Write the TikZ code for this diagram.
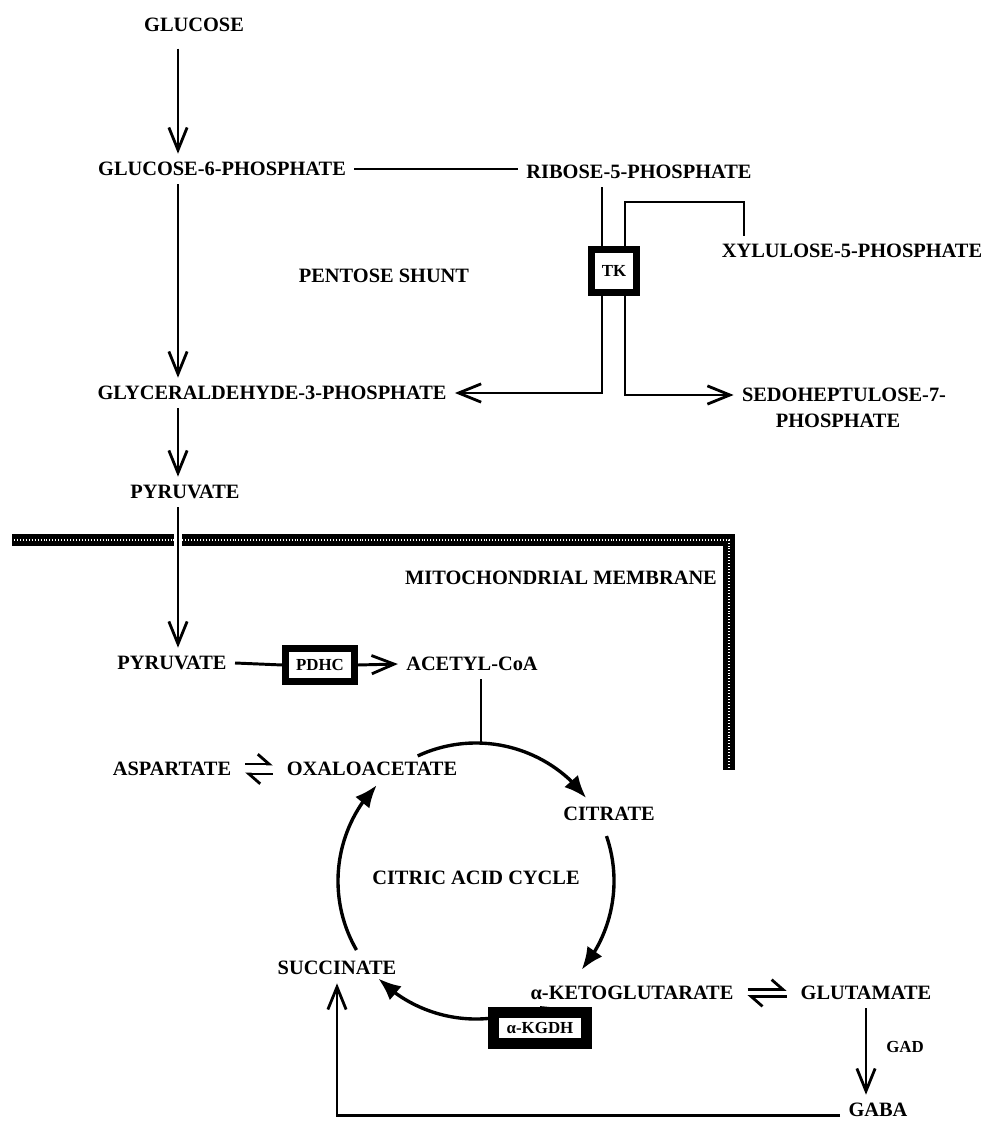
\documentclass[tikz,border=0pt]{standalone}
\usepackage{fontspec}
\setmainfont{Liberation Serif}
\usetikzlibrary{arrows.meta,bending,positioning}

\tikzset{
	met/.style={font=\fontsize{14.5}{17}\selectfont\bfseries, inner sep=1pt, outer sep=5pt},
	small/.style={font=\fontsize{12}{14}\selectfont\bfseries, inner sep=1pt},
	flow/.style={line width=2.1pt},
	open/.style={flow, -{Straight Barb[length=16pt,width=13pt,line width=2pt]}},
	cyc/.style={line width=2.4pt, -{Latex[length=16pt,width=13pt,flex]}},
	harp/.style={line width=2pt, shorten <=4pt, shorten >=4pt, -{Straight Barb[left,length=8pt,width=14pt,line width=2pt]}},
	tkbox/.style={small, draw, fill=white, line width=0.175cm, minimum width=1.125cm, minimum height=1.075cm},
	pdhbox/.style={small, draw, fill=white, line width=0.175cm, minimum width=1.7cm, minimum height=0.825cm},
	kgdhbox/.style={small, draw, fill=white, line width=0.275cm, minimum width=2.325cm, minimum height=0.775cm},
}

\begin{document}
\begin{tikzpicture}[x=0.025cm, y=-0.025cm]
	\useasboundingbox (0,0) rectangle (989,1128);
	% Glycolysis and pentose shunt:
	\node[met] (glc) at (194,25) {GLUCOSE};
	\node[met] (gsp) at (222,169) {GLUCOSE-6-PHOSPHATE};
	\node[met] (rsp) at (639,172) {RIBOSE-5-PHOSPHATE};
	\node[met] (xsp) at (852,251) {XYLULOSE-5-PHOSPHATE};
	\node[met] (shunt) at (384,276) {PENTOSE SHUNT};
	\node[tkbox] (tk) at (614,271) {TK};
	\node[met] (gap) at (272,393) {GLYCERALDEHYDE-3-PHOSPHATE};
	\node[met] (shp) at (844,395) {SEDOHEPTULOSE-7-};
	\node[met] (shpb) at (838,421) {PHOSPHATE};
	\node[met] (pyra) at (185,492) {PYRUVATE};
	% Membrane:
	\draw[line width=0.3cm] (12,540) -- (729,540) -- (729,770);
	\draw[white, line width=0.07cm, dash pattern=on 0.5pt off 1.6pt] (14,540) -- (729,540) -- (729,768);
	\node[met] (mito) at (561,578) {MITOCHONDRIAL MEMBRANE};
	% Mitochondrion:
	\node[met] (pyrb) at (172,663) {PYRUVATE};
	\node[pdhbox] (pdhc) at (320,665) {PDHC};
	\node[met] (acoa) at (472,664) {ACETYL-CoA};
	\node[met] (asp) at (172,769) {ASPARTATE};
	\node[met] (oaa) at (372,769) {OXALOACETATE};
	\node[met] (cit) at (609,814) {CITRATE};
	\node[met] (cac) at (476,878) {CITRIC ACID CYCLE};
	\node[met] (akg) at (632,993) {α-KETOGLUTARATE};
	\node[met] (glu) at (866,993) {GLUTAMATE};
	\node[small] (gad) at (905,1047) {GAD};
	\node[met] (gaba) at (878,1110) {GABA};
	\node[met] (suc) at (337,968) {SUCCINATE};

	\coordinate (trunk) at (178,0);
	\coordinate (lx) at (602,0);
	\coordinate (rx) at (625,0);
	\coordinate (xk) at (744,202);
	\coordinate (cc) at (476,881);
	\coordinate (join) at (481,745);

	\draw[open, shorten <=6pt] (glc.south -| trunk) -- (gsp.north -| trunk);
	\draw[flow] (gsp.east) -- (gsp.east -| rsp.west);
	\draw[open] (gsp.south -| trunk) -- (gap.north -| trunk);
	\draw[open] (gap.south -| trunk) -- (pyra.north -| trunk);
	\draw[open, preaction={draw=white, line width=5pt, -}] (pyra.south -| trunk) -- (pyrb.north -| trunk);
	\draw[flow] (rsp.south -| lx) -- (tk.north -| lx);
	\draw[flow] (tk.north -| rx) |- (xk) -- (xk |- xsp.north);
	\draw[open] (tk.south -| lx) |- (gap.east);
	\draw[open] (tk.south -| rx) |- (shp.west);
	\draw[flow] (pyrb.east) -- (pdhc.west);
	\draw[open] (pdhc.east) -- (acoa.west);
	\draw[flow] (acoa.south -| join) -- (join);

	% Citric acid cycle:
	\draw[cyc] (cc) ++(-115:138) arc[start angle=-115, end angle=-37, radius=138];
	\draw[cyc] (cc) ++(-19:138) arc[start angle=-19, end angle=40, radius=138];
	\draw[cyc] (cc) ++(84:138) arc[start angle=84, end angle=135, radius=138];
	\draw[cyc] (cc) ++(150:138) arc[start angle=150, end angle=224, radius=138];
	\node[kgdhbox] (kgdh) at (540,1028) {α-KGDH};
	\draw[line width=1.3pt] (kgdh.north) -- (akg.191);

	\draw[harp] ([yshift=3.5pt]asp.east) -- ([yshift=3.5pt]oaa.west);
	\draw[harp] ([yshift=-3.5pt]oaa.west) -- ([yshift=-3.5pt]asp.east);
	\draw[harp] ([yshift=2.5pt]akg.east) -- ([yshift=2.5pt]glu.west);
	\draw[harp] ([yshift=-2.5pt]glu.west) -- ([yshift=-2.5pt]akg.east);
	\draw[open] (glu.south) -- (glu.south |- gaba.north);
	\draw[open] ([yshift=-4pt]gaba.west) -| (suc.south);
\end{tikzpicture}
\end{document}
